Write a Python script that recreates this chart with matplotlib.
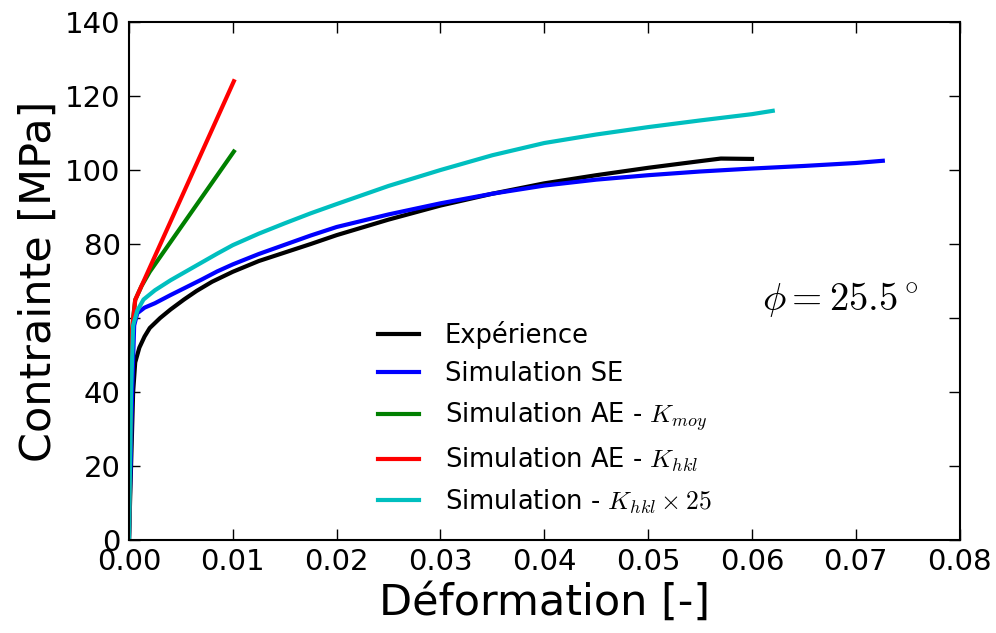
import matplotlib
matplotlib.use("Agg")
import matplotlib.pyplot as plt

plt.rcParams["mathtext.fontset"] = "cm"
plt.rcParams["font.family"] = "DejaVu Sans"

# Expérience
exp_x = [0, 0.0002, 0.0004, 0.0006, 0.001, 0.0015, 0.002, 0.003, 0.004, 0.0053, 0.0065,
         0.008, 0.01, 0.0125, 0.015, 0.0175, 0.02, 0.025, 0.03, 0.035, 0.04, 0.045,
         0.05, 0.055, 0.057, 0.06]
exp_y = [0, 20, 40, 48, 52, 55, 57.3, 60, 62.3, 65, 67.3,
         69.8, 72.5, 75.4, 77.7, 80, 82.4, 86.6, 90.4, 93.6, 96.4, 98.6,
         100.6, 102.4, 103.1, 103]

# Simulation SE
se_x = [0, 0.0003, 0.0005, 0.0008, 0.0015, 0.0025, 0.004, 0.0055, 0.007, 0.0085, 0.01,
        0.0125, 0.015, 0.0175, 0.02, 0.025, 0.03, 0.035, 0.04, 0.045, 0.05, 0.055,
        0.06, 0.065, 0.07, 0.0726]
se_y = [0, 40, 58, 61.3, 62.8, 64, 66.2, 68.3, 70.4, 72.6, 74.5,
        77.3, 79.8, 82.3, 84.6, 88, 91, 93.6, 95.8, 97.4, 98.6, 99.6,
        100.4, 101.1, 101.9, 102.5]

# Simulation AE - K_moy
moy_x = [0, 0.0002, 0.0004, 0.0006, 0.0012, 0.002, 0.0101]
moy_y = [0, 50, 60, 64.9, 68.6, 72.5, 105]

# Simulation AE - K_hkl
hkl_x = [0, 0.0002, 0.0003, 0.0006, 0.0101]
hkl_y = [0, 50, 57, 64.9, 124]

# Simulation - K_hkl x25
k25_x = [0, 0.0002, 0.0004, 0.0008, 0.0014, 0.0025, 0.004, 0.0055, 0.007, 0.0085, 0.01,
         0.0125, 0.015, 0.0175, 0.02, 0.025, 0.03, 0.035, 0.04, 0.045, 0.05, 0.055,
         0.06, 0.062]
k25_y = [0, 40, 58, 62, 65, 67.5, 70.2, 72.6, 75, 77.4, 79.7,
         82.8, 85.6, 88.3, 90.8, 95.7, 100, 104, 107.3, 109.6, 111.6, 113.4,
         115.1, 116]

fig = plt.figure(figsize=(9.96, 6.33), dpi=100)
ax = fig.add_axes([0.1295, 0.1469, 0.834, 0.8183])

ax.plot(exp_x, exp_y, color="k", lw=3, label="Expérience")
ax.plot(se_x, se_y, color="b", lw=3, label="Simulation SE")
ax.plot(moy_x, moy_y, color="#008000", lw=3, label=r"Simulation AE - $K_{moy}$")
ax.plot(hkl_x, hkl_y, color="r", lw=3, label=r"Simulation AE - $K_{hkl}$")
ax.plot(k25_x, k25_y, color="#00BFBF", lw=3, label=r"Simulation - $K_{hkl}\times25$")

ax.set_xlim(0, 0.08)
ax.set_ylim(0, 140)
ax.set_xticks([0, 0.01, 0.02, 0.03, 0.04, 0.05, 0.06, 0.07, 0.08])
ax.set_yticks(range(0, 141, 20))
ax.tick_params(direction="in", length=8, width=1, labelsize=21, top=True, right=True, pad=6)
for s in ax.spines.values():
    s.set_linewidth(1.5)

ax.set_xlabel("Déformation [-]", fontsize=31)
ax.set_ylabel("Contrainte [MPa]", fontsize=31)

ax.text(0.0685, 65, r"$\phi = 25.5^\circ$", fontsize=28, ha="center", va="center")

ax.legend(loc="upper left", bbox_to_anchor=(0.2998, 0.4236), frameon=False, fontsize=18.5,
          borderpad=0, borderaxespad=0, handlelength=1.6, handletextpad=1.0,
          labelspacing=0.5)

fig.savefig("out.png", dpi=100)
